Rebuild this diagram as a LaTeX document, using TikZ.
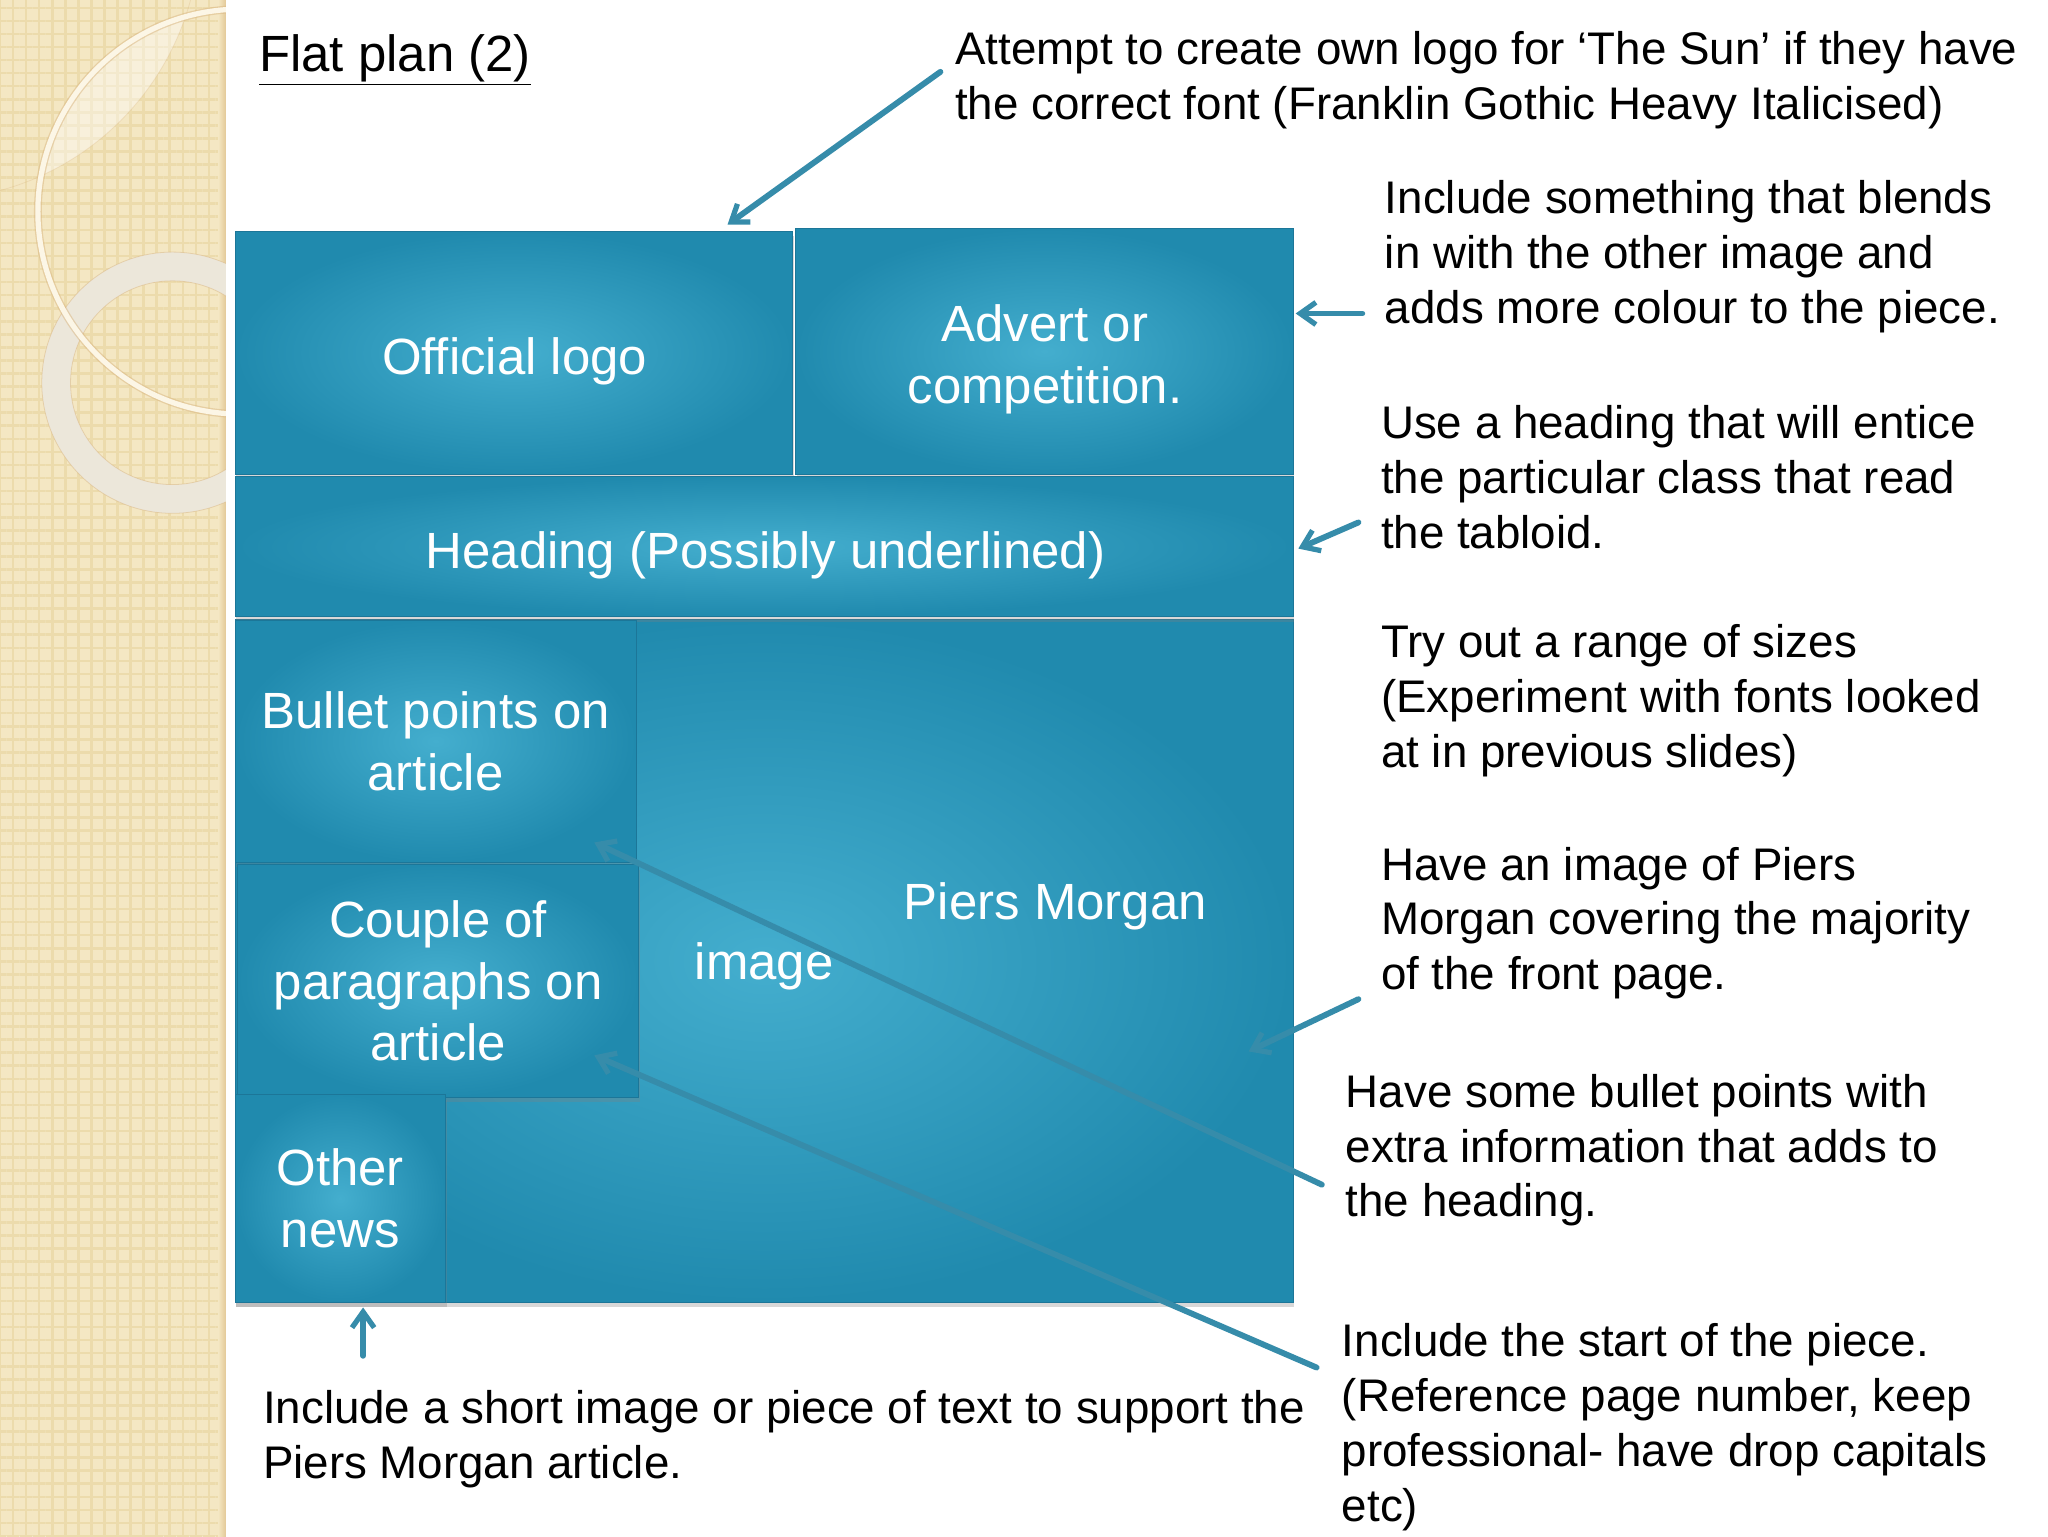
\documentclass[tikz,border=0pt]{standalone}
\usepackage{fontspec}
\setmainfont{Liberation Sans}
\usetikzlibrary{arrows.meta,shadows,patterns.meta}

\definecolor{boxlight}{RGB}{68,174,206}
\definecolor{boxdark}{RGB}{32,138,174}
\definecolor{boxedge}{RGB}{28,118,152}
\definecolor{arrowteal}{RGB}{54,140,170}
\definecolor{stripbeige}{RGB}{244,231,195}
\definecolor{stripdot}{RGB}{236,219,172}
\definecolor{ringwhite}{RGB}{236,231,218}
\definecolor{arccream}{RGB}{252,246,230}

\tikzset{every picture/.style={line width=0.75pt}}
\tikzset{
  planbox/.style={draw=boxedge, line width=0.8pt, inner color=boxlight, outer color=boxdark,
    text=white, align=center, inner sep=0pt, font=\fontsize{39}{47}\selectfont,
    drop shadow={opacity=0.3, shadow xshift=1pt, shadow yshift=-4pt}},
  boxlabel/.style={text=white, align=center, inner sep=0pt, font=\fontsize{39}{47}\selectfont},
  note/.style={align=left, anchor=north west, inner sep=0pt, font=\fontsize{35}{42}\selectfont},
  pointer/.style={draw=arrowteal, line width=4.5pt, line cap=round,
    -{Straight Barb[length=12pt, width=17pt, line width=4pt]}}
}

\begin{document}
\begin{tikzpicture}[x=1pt,y=1pt,yscale=-1]
\useasboundingbox (0,0) rectangle (1568,1176);
\fill[white] (0,0) rectangle (1568,1176);

%Shape: side strip
\fill[stripbeige] (0,0) rectangle (173,1176);
\fill[pattern={Hatch[distance=10pt, line width=2pt]}, pattern color=stripdot] (0,0) rectangle (173,1176);
\shade[left color=stripbeige, right color=stripdot!80!brown] (167,0) rectangle (173,1176);
\begin{scope}
\clip (0,0) rectangle (173,1176);
%lighter lens
\begin{scope}
\clip (184,162) circle [radius=155];
\fill[white, opacity=0.4] (-54,-54) circle [radius=207];
\end{scope}
\draw[stripdot!60!brown, opacity=0.3, line width=0.6pt] (-54,-54) circle [radius=207];
%thick ring
\fill[ringwhite, even odd rule] (132,293) circle [radius=100] (132,293) circle [radius=78];
\draw[stripdot!60!brown, opacity=0.5, line width=0.6pt] (132,293) circle [radius=100] (132,293) circle [radius=78];
%thin ring
\draw[stripdot!60!brown, opacity=0.5, line width=6pt] (184,162) circle [radius=155];
\draw[arccream, line width=4pt] (184,162) circle [radius=155];
\end{scope}

% Title
\node[anchor=west, inner sep=0pt, font=\fontsize{39}{47}\selectfont] (title) at (198,46) {\underline{Flat plan (2)}};

%Shapes: plan boxes
\node[planbox, minimum width=810pt, minimum height=523pt] (photo) at (585,735.5) {};
\node[planbox, minimum width=427pt, minimum height=186pt] (logo) at (393.5,270) {};
\node[planbox, minimum width=381pt, minimum height=188pt] (advert) at (799.5,269) {};
\node[planbox, minimum width=810pt, minimum height=107pt] (heading) at (585,418.5) {};
\node[planbox, minimum width=307pt, minimum height=185pt] (bullets) at (333.5,567.5) {Bullet points on\\article};
\node[planbox, minimum width=307pt, minimum height=178pt] (paras) at (335.5,751) {Couple of\\paragraphs on\\article};
\node[planbox, minimum width=161pt, minimum height=159pt] (othernews) at (260.5,917.5) {Other\\news};

% Text Node
\node[boxlabel] (logolabel) at (394,277) {Official logo};
\node[boxlabel] (advertlabel) at (800,275) {Advert or\\competition.};
\node[boxlabel] (headinglabel) at (586,425) {Heading (Possibly underlined)};
\node[boxlabel] (imagelabel) at (585,740) {image};
\node[boxlabel] (piers) at (808,694) {Piers Morgan};

% Notes
\node[note] (logonote) at (731,24) {Attempt to create own logo for ‘The Sun’ if they have\\the correct font (Franklin Gothic Heavy Italicised)};
\node[note] (advertnote) at (1060,138) {Include something that blends\\in with the other image and\\adds more colour to the piece.};
\node[note] (headingnote) at (1057,310) {Use a heading that will entice\\the particular class that read\\the tabloid.};
\node[note] (sizenote) at (1057,478) {Try out a range of sizes\\(Experiment with fonts looked\\at in previous slides)};
\node[note] (piersnote) at (1057,648) {Have an image of Piers\\Morgan covering the majority\\of the front page.};
\node[note] (bulletnote) at (1030,822) {Have some bullet points with\\extra information that adds to\\the heading.};
\node[note] (startnote) at (1027,1013) {Include the start of the piece.\\(Reference page number, keep\\professional- have drop capitals\\etc)};
\node[note] (othernote) at (201,1064) {Include a short image or piece of text to support the\\Piers Morgan article.};

%Arrow ends
\coordinate (a1) at (720,55);   \coordinate (t1) at (557,172);
\coordinate (a2) at (1043,240); \coordinate (t2) at (992,240);
\coordinate (a3) at (1040,400); \coordinate (t3) at (994,420);
\coordinate (a4) at (1040,765); \coordinate (t4) at (956,805);
\coordinate (a5) at (1012,907); \coordinate (t5) at (455,645);
\coordinate (a6) at (1008,1047);\coordinate (t6) at (455,808);
\coordinate (a7) at (278,1038); \coordinate (t7) at (278,1001);

%Arrows
\draw[pointer] (a1) -- (t1);
\draw[pointer] (a2) -- (t2);
\draw[pointer] (a3) -- (t3);
\draw[pointer] (a4) -- (t4);
\draw[pointer] (a5) -- (t5);
\draw[pointer] (a6) -- (t6);
\draw[pointer] (a7) -- (t7);

\end{tikzpicture}
\end{document}
